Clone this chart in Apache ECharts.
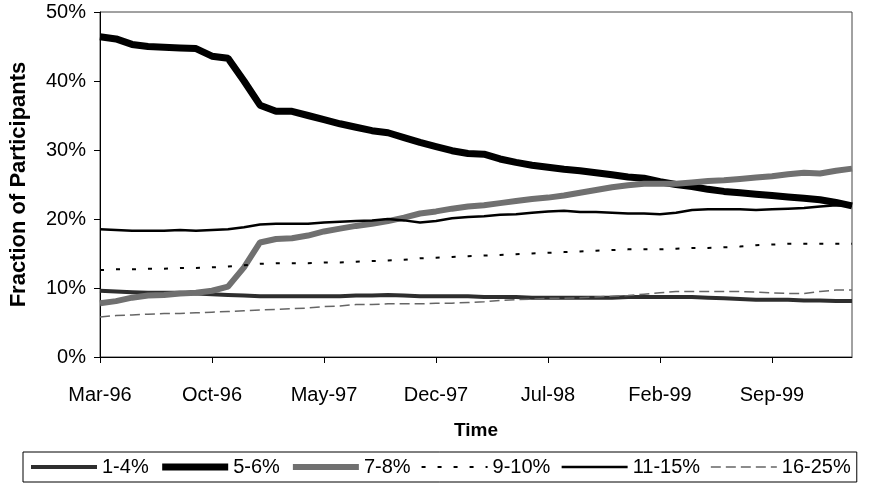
<!DOCTYPE html>
<html>
<head>
<meta charset="utf-8">
<script src="https://cdn.jsdelivr.net/npm/echarts@6/dist/echarts.min.js"></script>
<style>
  html, body { margin: 0; padding: 0; background: #fff; }
  #chart { width: 871px; height: 487px; }
</style>
</head>
<body>
<div id="chart"></div>
<script>
// monthly categories, Mar-96 .. Feb-00
var months = [
  'Mar-96','Apr-96','May-96','Jun-96','Jul-96','Aug-96','Sep-96','Oct-96','Nov-96','Dec-96',
  'Jan-97','Feb-97','Mar-97','Apr-97','May-97','Jun-97','Jul-97','Aug-97','Sep-97','Oct-97','Nov-97','Dec-97',
  'Jan-98','Feb-98','Mar-98','Apr-98','May-98','Jun-98','Jul-98','Aug-98','Sep-98','Oct-98','Nov-98','Dec-98',
  'Jan-99','Feb-99','Mar-99','Apr-99','May-99','Jun-99','Jul-99','Aug-99','Sep-99','Oct-99','Nov-99','Dec-99',
  'Jan-00','Feb-00'
];

// fraction of participants, percent
var pct1to4 = [9.6,9.5,9.4,9.3,9.3,9.3,9.2,9.1,9.0,8.9,8.8,8.8,8.8,8.8,8.8,8.8,8.9,8.9,9.0,8.9,8.8,8.8,8.8,8.8,
  8.7,8.7,8.7,8.6,8.6,8.6,8.6,8.6,8.6,8.7,8.7,8.7,8.7,8.7,8.6,8.5,8.4,8.3,8.3,8.3,8.2,8.2,8.1,8.1];
var pct5to6 = [46.4,46.1,45.3,45.0,44.9,44.8,44.7,43.6,43.3,40.0,36.5,35.6,35.6,35.0,34.4,33.8,33.3,32.8,32.5,31.8,31.1,30.5,29.9,29.5,
  29.4,28.7,28.2,27.8,27.5,27.2,27.0,26.7,26.4,26.1,25.9,25.4,25.0,24.7,24.3,24.0,23.8,23.6,23.4,23.2,23.0,22.8,22.4,21.9];
var pct7to8 = [7.8,8.1,8.6,8.9,9.0,9.2,9.3,9.6,10.2,13.0,16.6,17.1,17.2,17.6,18.2,18.6,19.0,19.3,19.7,20.2,20.8,21.1,21.5,21.8,
  22.0,22.3,22.6,22.9,23.1,23.4,23.8,24.2,24.6,24.9,25.1,25.1,25.1,25.3,25.5,25.6,25.8,26.0,26.2,26.5,26.7,26.6,27.0,27.3];
var pct9to10 = [12.6,12.7,12.7,12.8,12.8,12.9,12.9,13.0,13.1,13.3,13.5,13.6,13.6,13.6,13.7,13.7,13.8,13.9,14.0,14.1,14.3,14.4,14.5,14.6,
  14.7,14.8,14.9,15.0,15.1,15.2,15.3,15.4,15.5,15.6,15.6,15.6,15.7,15.8,15.8,15.9,16.0,16.2,16.3,16.4,16.4,16.4,16.4,16.4];
var pct11to15 = [18.5,18.4,18.3,18.3,18.3,18.4,18.3,18.4,18.5,18.8,19.2,19.3,19.3,19.3,19.5,19.6,19.7,19.8,20.0,19.8,19.5,19.7,20.1,20.3,
  20.4,20.6,20.7,20.9,21.1,21.2,21.0,21.0,20.9,20.8,20.8,20.7,20.9,21.3,21.4,21.4,21.4,21.3,21.4,21.5,21.6,21.8,22.0,21.9];
var pct16to25 = [5.8,6.0,6.1,6.2,6.3,6.3,6.4,6.5,6.6,6.7,6.8,6.9,7.0,7.1,7.3,7.4,7.6,7.6,7.7,7.7,7.7,7.8,7.8,7.9,
  8.0,8.2,8.3,8.4,8.5,8.5,8.6,8.7,8.8,8.9,9.1,9.3,9.5,9.5,9.5,9.5,9.5,9.4,9.3,9.2,9.2,9.5,9.7,9.7];

var fontName = '"Liberation Sans", Arial, sans-serif';

var chart = echarts.init(document.getElementById('chart'));

function line(name, data, color, style) {
  style.color = color;
  return {
    name: name,
    type: 'line',
    data: data,
    symbol: 'none',
    color: color,
    itemStyle: { color: color },
    lineStyle: style
  };
}

chart.setOption({
  animation: false,
  textStyle: { fontFamily: fontName, color: '#000' },
  grid: {
    left: 97, right: 19, top: 12, bottom: 130,
    show: true, borderColor: '#444', borderWidth: 1
  },
  legend: {
    left: 23, top: 452,
    padding: [5, 6],
    borderColor: '#000', borderWidth: 1,
    itemWidth: 66, itemHeight: 14, itemGap: 10,
    itemStyle: { opacity: 0 },
    lineStyle: { width: 'inherit' },
    textStyle: { fontSize: 20, fontFamily: fontName, color: '#000' },
    data: ['1-4%', '5-6%', '7-8%', '9-10%', '11-15%', '16-25%']
  },
  xAxis: {
    type: 'category',
    data: months,
    boundaryGap: false,
    name: 'Time',
    nameLocation: 'middle',
    nameGap: 64,
    nameTextStyle: { fontSize: 19, fontWeight: 'bold', color: '#000' },
    axisLine: { lineStyle: { color: '#000', width: 1 } },
    axisTick: { interval: 6, length: 6, lineStyle: { color: '#000' } },
    axisLabel: { interval: 6, margin: 28, fontSize: 20, color: '#000' },
    splitLine: { show: false }
  },
  yAxis: {
    type: 'value',
    min: 0, max: 50, interval: 10,
    name: 'Fraction of Participants',
    nameLocation: 'middle',
    nameGap: 70,
    nameTextStyle: { fontSize: 22, fontWeight: 'bold', color: '#000' },
    axisLine: { show: true, lineStyle: { color: '#000', width: 1 } },
    axisTick: { show: true, length: 6, lineStyle: { color: '#000' } },
    axisLabel: { margin: 14, fontSize: 20, color: '#000', formatter: '{value}%' },
    splitLine: { show: false }
  },
  series: [
    line('1-4%', pct1to4, '#2e2e2e', { width: 4 }),
    line('5-6%', pct5to6, '#000', { width: 7 }),
    line('7-8%', pct7to8, '#707070', { width: 6 }),
    line('9-10%', pct9to10, '#000', { width: 2, type: [4, 12] }),
    line('11-15%', pct11to15, '#000', { width: 2.5 }),
    line('16-25%', pct16to25, '#666', { width: 1.5, type: [10, 5] })
  ]
});
</script>
</body>
</html>
